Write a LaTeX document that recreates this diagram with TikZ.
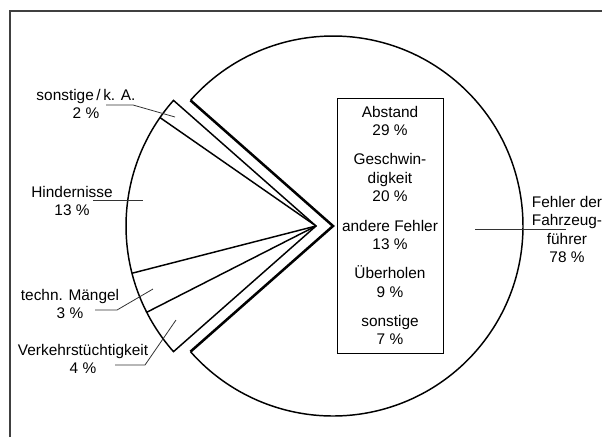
\documentclass[tikz,border=0pt]{standalone}
\usepackage{fontspec}
\setmainfont{Liberation Sans}
\begin{document}
\begin{tikzpicture}[x=0.75pt,y=0.75pt,
  lbl/.style={font=\fontsize{11.55}{13.9}\selectfont, align=center, inner sep=0pt},
  pieline/.style={line width=1.1pt, line join=miter},
  cutedge/.style={line width=1.9pt, line join=miter},
  leader/.style={line width=0.6pt, draw=black!80},
  frameline/.style={line width=1.1pt, draw=black!75}]
\useasboundingbox (0,0) rectangle (602,437);
% frame
\coordinate (f1) at (10,0);
\coordinate (f2) at (10,426);
\coordinate (f3) at (602,426);
\draw[frameline] (f1) -- (f2) -- (f3);
% centres
\coordinate (B) at (333,211);
\coordinate (S) at (316,211);
% big pie (78 %)
\draw[pieline] ([shift={(138.6:190)}]B) arc[start angle=138.6, end angle=-138.6, radius=190];
\draw[cutedge] ([shift={(138.6:190)}]B) -- (B) -- ([shift={(221.4:190)}]B);
% small pie (22 %)
\draw[pieline] (S) -- ([shift={(138.6:190)}]S) arc[start angle=138.6, end angle=221.4, radius=190] -- cycle;
\foreach \a in {145.2,194.4,207} \draw[pieline] (S) -- ([shift={(\a:190)}]S);
% box
\node[lbl, draw, line width=0.75pt, minimum width=79.5pt, minimum height=191.25pt] (box) at (390,211.5)
  {Abstand\\29 \%\\[7.9pt]Geschwin-\\digkeit\\20 \%\\[7.9pt]andere Fehler\\13 \%\\[7.9pt]Überholen\\9 \%\\[7.9pt]sonstige\\7 \%};
% labels
\node[lbl] (fehler) at (567,207.5) {Fehler der\\Fahrzeug-\\führer\\78 \%};
\node[lbl] (sk) at (86,333) {sonstige\,/\,k. A.\\2 \%};
\node[lbl] (hin) at (72,236) {Hindernisse\\13 \%};
\node[lbl] (tm) at (70,133) {techn. Mängel\\3 \%};
\node[lbl] (vk) at (83,78) {Verkehrstüchtigkeit\\4 \%};
% leaders
\coordinate (skA) at (106,332);
\coordinate (skB) at (133,332);
\coordinate (skC) at (175,320);
\draw[leader] (skA) -- (skB) -- (skC);
\coordinate (hiA) at (93,237);
\coordinate (hiB) at (143,237);
\draw[leader] (hiA) -- (hiB);
\coordinate (tmA) at (95,127);
\coordinate (tmB) at (117,127);
\coordinate (tmC) at (153,148);
\draw[leader] (tmA) -- (tmB) -- (tmC);
\coordinate (vkA) at (115,72);
\coordinate (vkB) at (145,72);
\coordinate (vkC) at (176,117);
\draw[leader] (vkA) -- (vkB) -- (vkC);
\coordinate (feA) at (475,208);
\coordinate (feB) at (566,208);
\draw[leader] (feA) -- (feB);
\end{tikzpicture}
\end{document}
